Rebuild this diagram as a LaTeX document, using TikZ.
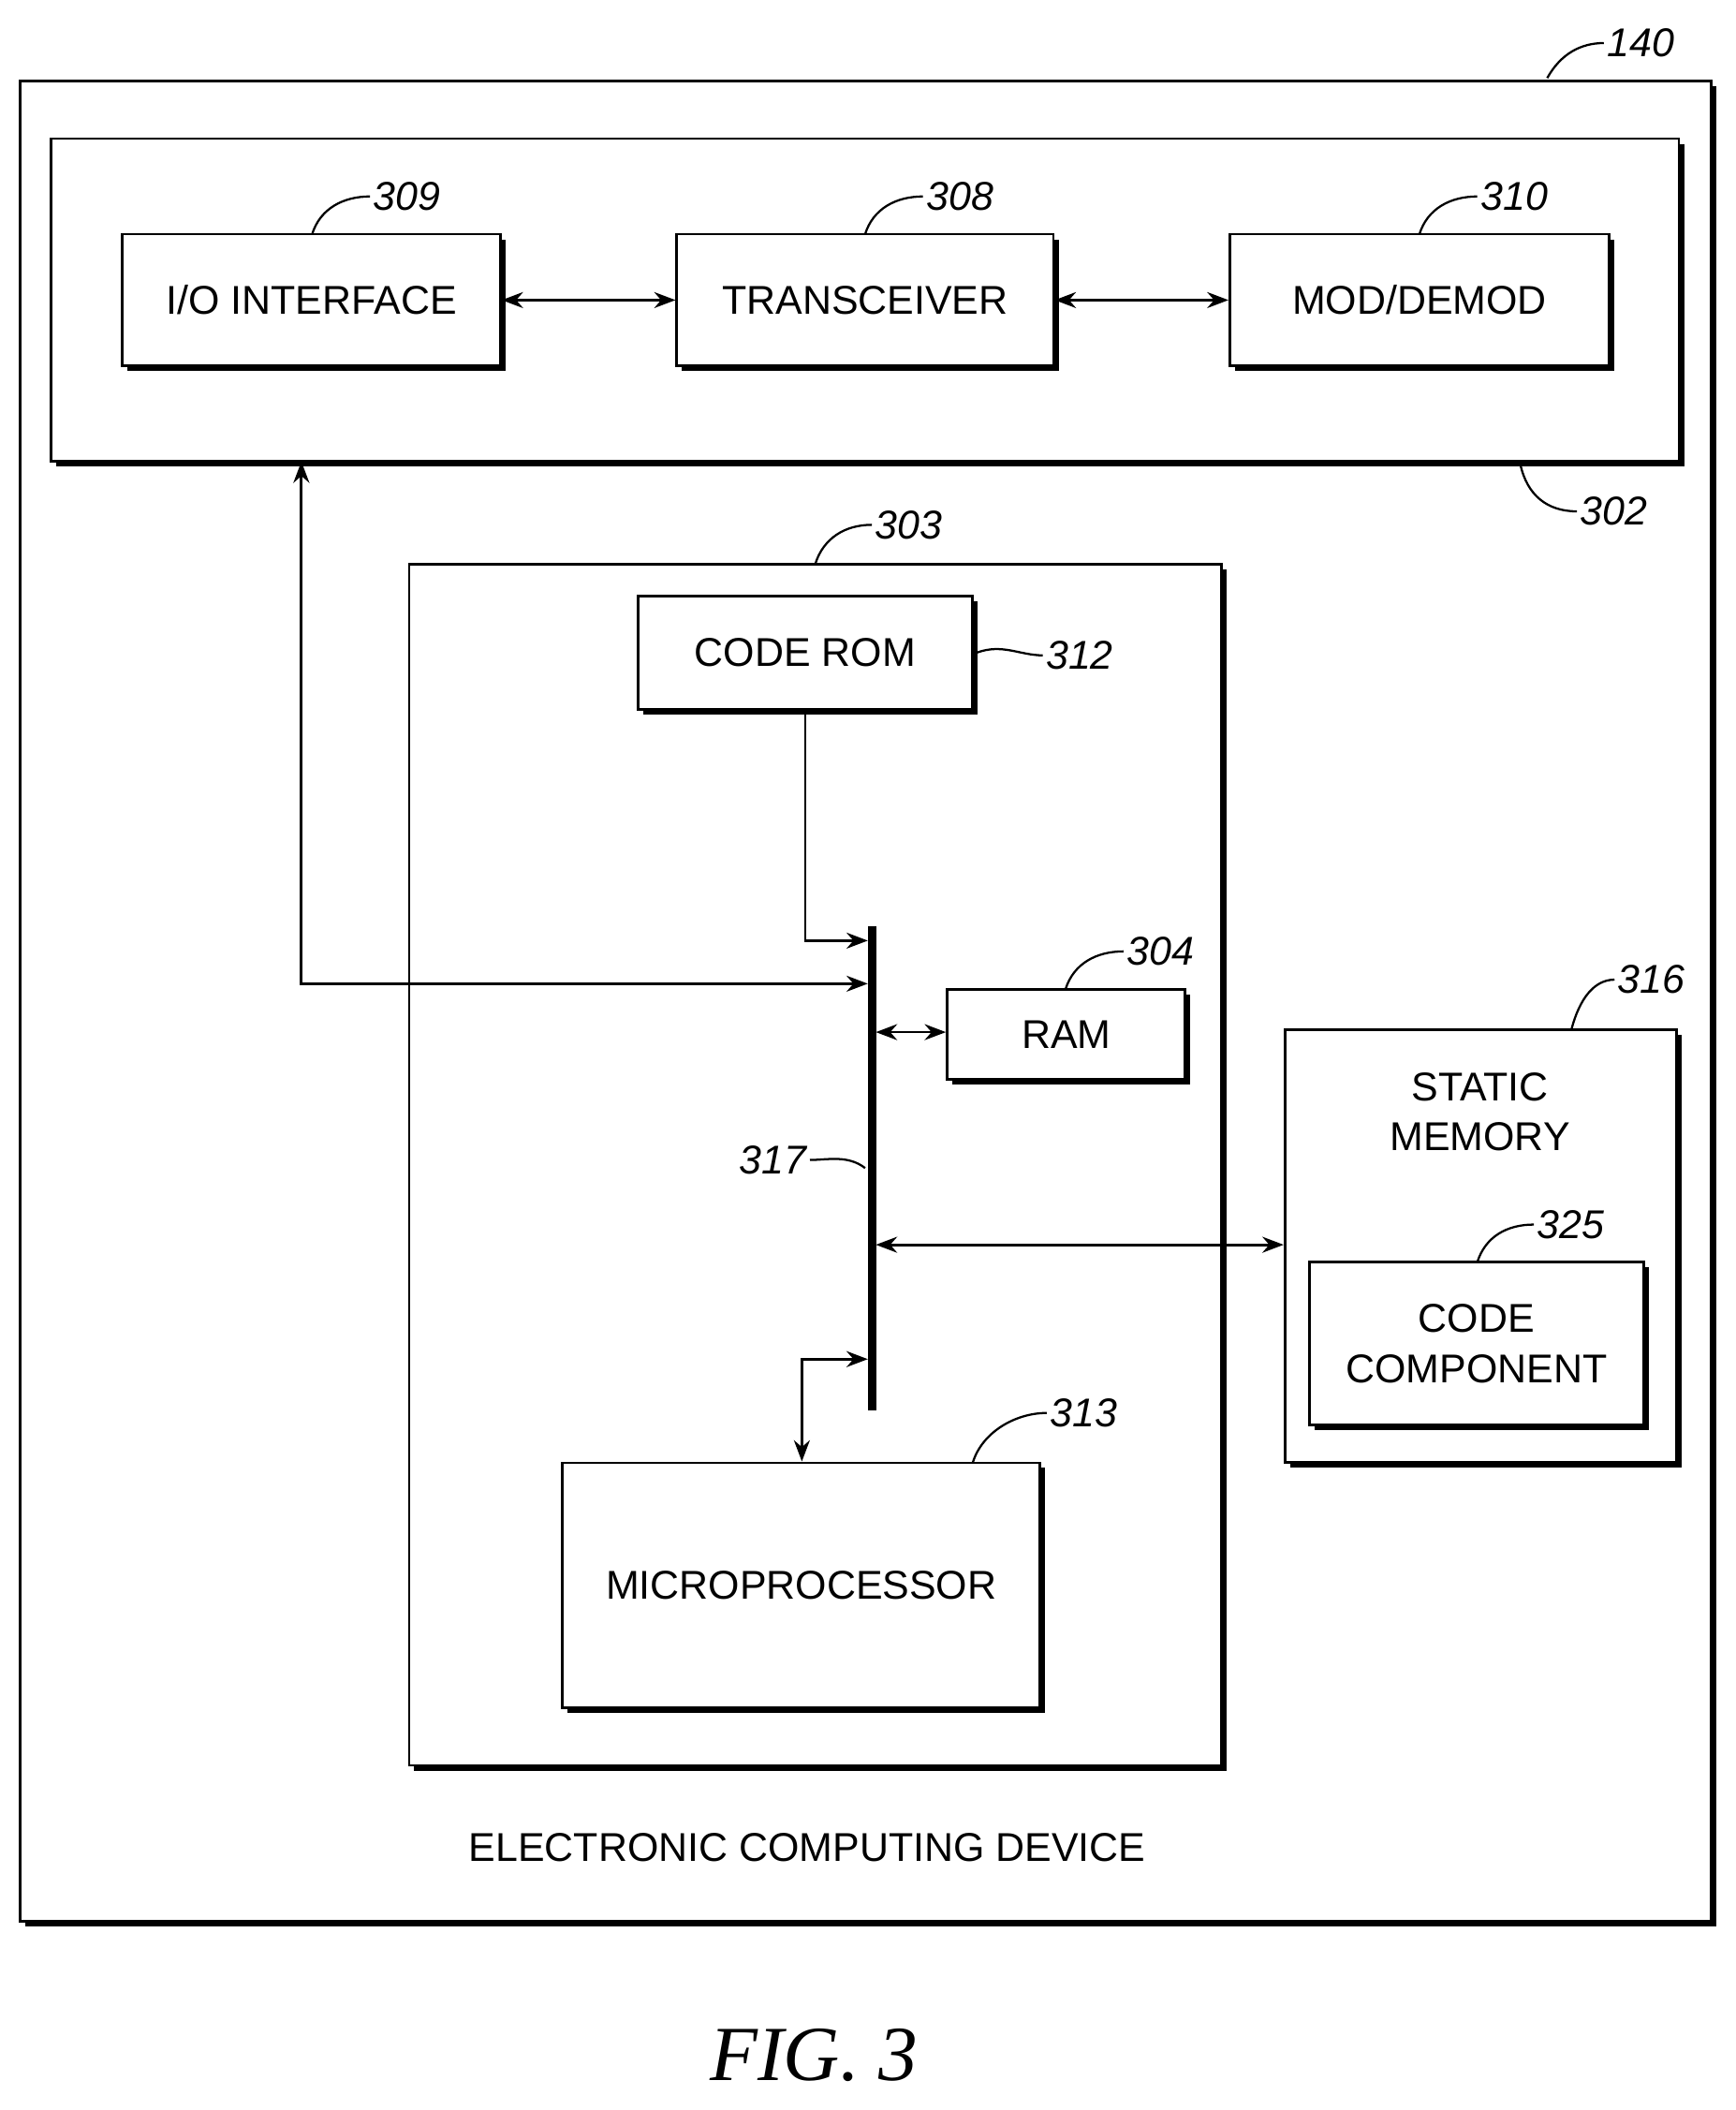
\documentclass[tikz,border=0pt]{standalone}
\usepackage{fontspec}
\setmainfont{Liberation Sans}
\newfontfamily\figfont{Liberation Serif}
\usetikzlibrary{shadows,arrows.meta}
\begin{document}
\begin{tikzpicture}[x=0.02cm,y=-0.02cm,line width=1.1pt,
  box/.style={draw,fill=white,inner sep=0pt,align=center,
    general shadow={fill=black,shadow xshift=2.2pt,shadow yshift=-2.2pt},
    font=\fontsize{17}{21}\selectfont},
  bi/.style={{Stealth[length=9pt]}-{Stealth[length=9pt]}},
  uni/.style={-{Stealth[length=9pt]}},
  lead/.style={line width=0.9pt},
  num/.style={font=\fontsize{17}{20}\selectfont\itshape,inner sep=1pt}]
  \useasboundingbox (0,0) rectangle (1290,1568);

	% frames
	\node[box,minimum width=25.14cm,minimum height=27.36cm] (device) at (643.5,744) {};
	\node[box,minimum width=24.2cm,minimum height=4.8cm] (radio) at (643,223) {};
	\node[box,minimum width=12.08cm,minimum height=17.86cm] (cpu) at (606,865.5) {};
	\node[box,minimum width=5.82cm,minimum height=6.44cm] (static) at (1100.5,926) {};

	% blocks
	\node[box,minimum width=5.62cm,minimum height=1.96cm] (io) at (231.5,223) {I/O INTERFACE};
	\node[box,minimum width=5.6cm,minimum height=1.96cm] (trx) at (643,223) {TRANSCEIVER};
	\node[box,minimum width=5.64cm,minimum height=1.96cm] (mod) at (1055,223) {MOD/DEMOD};
	\node[box,minimum width=4.98cm,minimum height=1.68cm] (rom) at (598.5,485) {CODE ROM};
	\node[box,minimum width=3.54cm,minimum height=1.34cm] (ram) at (792.5,768.5) {RAM};
	\node[box,minimum width=7.1cm,minimum height=3.64cm] (mp) at (595.5,1178) {MICROPROCESSOR};
	\node[box,minimum width=4.98cm,minimum height=2.42cm] (cc) at (1097.5,998.5) {CODE\\COMPONENT};
	\node[font=\fontsize{17}{21}\selectfont,align=center] (stattxt) at (1100,826) {STATIC\\MEMORY};
	\node[font=\fontsize{17}{21}\selectfont] (devtxt) at (600,1373) {ELECTRONIC COMPUTING DEVICE};
	\node[font=\fontsize{33}{37}\selectfont\figfont\itshape] (fig) at (605,1527) {FIG. 3};

	% bus
	\coordinate (bt) at (648,688);
	\coordinate (bb) at (648,1048);
	\draw[line width=3.5pt] (bt) -- (bb);

	% connectors
	\draw[bi] (io) -- (trx);
	\draw[bi] (trx) -- (mod);
	\draw[bi] (224,343) |- (645,731);
	\draw[uni] (rom.south) |- (645,699);
	\draw[bi] (651,767) -- (ram.west |- 651,767);
	\draw[bi] (651,925) -- (static.west |- 651,925);
	\draw[bi] (645,1010) -| (mp.north -| 596,0);

	% reference numerals
	\draw[lead] (1150,58) .. controls (1160,40) and (1175,32) .. (1192,32) node[num,right] {140};
	\draw[lead] (232,174) .. controls (238,155) and (255,146) .. (275,146) node[num,right] {309};
	\draw[lead] (643,174) .. controls (649,155) and (666,146) .. (686,146) node[num,right] {308};
	\draw[lead] (1055,174) .. controls (1061,155) and (1078,146) .. (1098,146) node[num,right] {310};
	\draw[lead] (1130,345) .. controls (1135,368) and (1150,380) .. (1172,380) node[num,right] {302};
	\draw[lead] (606,419) .. controls (612,400) and (628,390) .. (648,390) node[num,right] {303};
	\draw[lead] (726,485) .. controls (745,478) and (758,487) .. (775,487) node[num,right] {312};
	\draw[lead] (792,735) .. controls (798,716) and (815,707) .. (835,707) node[num,right] {304};
	\draw[lead] (1168,765) .. controls (1174,742) and (1185,728) .. (1200,728) node[num,right] {316};
	\draw[lead] (1098,938) .. controls (1104,919) and (1120,910) .. (1140,910) node[num,right] {325};
	\draw[lead] (723,1087) .. controls (730,1064) and (755,1050) .. (778,1050) node[num,right] {313};
	\draw[lead] (643,868) .. controls (630,858) and (615,862) .. (602,862) node[num,left] {317};
\end{tikzpicture}
\end{document}
